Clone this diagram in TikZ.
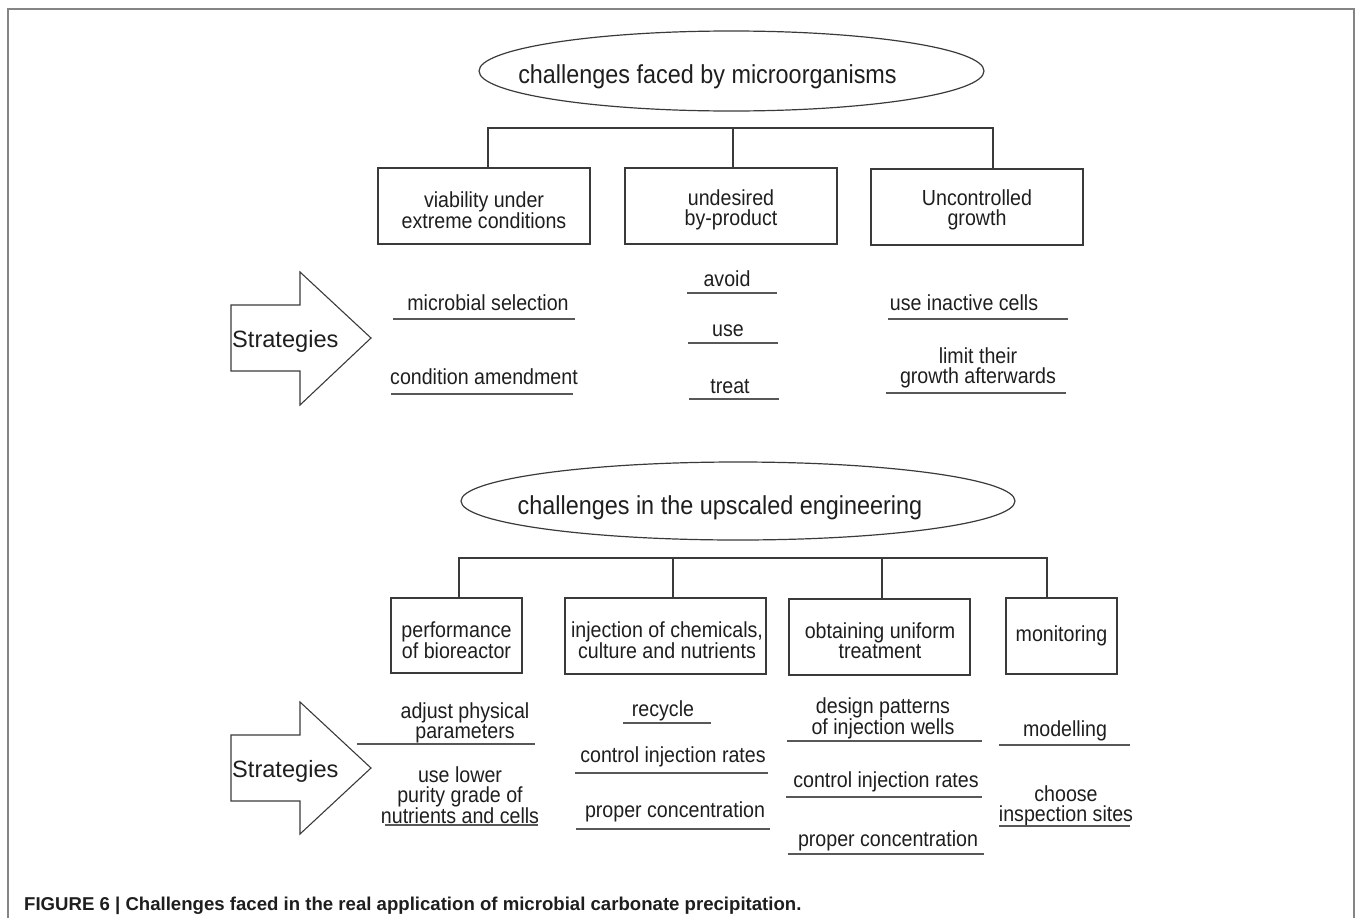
\documentclass[tikz,border=0pt]{standalone}
\usepackage{fontspec}
\setmainfont{Liberation Sans}
\newfontfamily\narrowfam{Liberation Sans}[FakeStretch=0.9]
\usetikzlibrary{shapes.geometric}
\definecolor{ink}{HTML}{1E1E1E}
\definecolor{edgec}{HTML}{3A3A3A}
\definecolor{framec}{HTML}{858585}
\newcommand\txtS{\narrowfam\fontsize{21.8pt}{20pt}\selectfont}
\newcommand\txtE{\narrowfam\fontsize{26pt}{28pt}\selectfont}
\newcommand\txtG{\fontsize{23.6pt}{26pt}\selectfont}
\newcommand\txtC{\bfseries\fontsize{18.6pt}{22pt}\selectfont}
\begin{document}
\begin{tikzpicture}[x=1pt,y=-1pt,
  box/.style={draw=edgec,line width=1.4pt,rectangle,inner sep=0pt},
  oval/.style={draw=edgec,line width=1.2pt,ellipse,inner sep=0pt},
  lbl/.style={inner sep=0pt,align=center,font=\txtS,text=ink},
  one/.style={lbl,text height=15pt,text depth=5pt},
  uline/.style={draw=edgec!85,line width=1.4pt},
  conn/.style={draw=edgec,line width=1.2pt},
  strat/.style={draw=edgec,line width=1.1pt,line join=miter},
  stxt/.style={inner sep=0pt,anchor=west,font=\txtG,text=ink},
]
\useasboundingbox (0,0) rectangle (1356,918);
% frame
\draw[framec,line width=1.5pt] (8,918) -- (8,9) -- (1354,9) -- (1354,918);

% ===== top part =====
\node[oval,minimum width=505pt,minimum height=80pt] (e1) at (731.5,71) {};
\node[lbl,font=\txtE] (t1) at (707.5,77) {challenges faced by microorganisms};

\node[box,minimum width=212pt,minimum height=76pt] (b1) at (484,206) {};
\node[box,minimum width=212pt,minimum height=76pt] (b2) at (731,206) {};
\node[box,minimum width=212pt,minimum height=76pt] (b3) at (977,207) {};
\node[lbl] (b1t) at (484,210.5) {viability under\\extreme conditions};
\node[lbl] (b2t) at (731,210) {undesired\\by-product};
\node[lbl] (b3t) at (977,209.5) {Uncontrolled\\growth};

\coordinate (h1L) at (488,128);
\coordinate (h1M) at (733,128);
\coordinate (h1R) at (993,128);
\draw[conn] (h1L |- b1.north) -- (h1L) -- (h1R) -- (h1R |- b3.north);
\draw[conn] (h1M) -- (h1M |- b2.north);

\draw[strat] (231,305) -- (300,305) -- (300,272) -- (371,338) -- (300,405) -- (300,371) -- (231,371) -- cycle;
\node[stxt] (s1) at (232,341.5) {Strategies};

\node[one] (a1) at (488,305.5) {microbial selection};
\draw[uline] (393,319) -- (575,319);
\node[one] (a2) at (484,379.5) {condition amendment};
\draw[uline] (391,394) -- (573,394);

\node[one] (m1) at (727,281) {avoid};
\draw[uline] (687,293) -- (777,293);
\node[one] (m2) at (728,331.5) {use};
\draw[uline] (688,343) -- (778,343);
\node[one] (m3) at (730,388.5) {treat};
\draw[uline] (689,399) -- (779,399);

\node[one] (r1) at (964,305.5) {use inactive cells};
\draw[uline] (888,319) -- (1068,319);
\node[lbl] (r2) at (978,368) {limit their\\growth afterwards};
\draw[uline] (886,393) -- (1066,393);

% ===== bottom part =====
\node[oval,minimum width=554pt,minimum height=78pt] (e2) at (738,501) {};
\node[lbl,font=\txtE] (t2) at (720,508) {challenges in the upscaled engineering};

\node[box,minimum width=131pt,minimum height=75pt] (bA) at (456.5,635.5) {};
\node[box,minimum width=201pt,minimum height=76pt] (bB) at (665.5,636) {};
\node[box,minimum width=181pt,minimum height=76pt] (bC) at (879.5,637) {};
\node[box,minimum width=111pt,minimum height=76pt] (bD) at (1061.5,636) {};
\node[lbl] (bAt) at (456.5,640.5) {performance\\of bioreactor};
\node[lbl] (bBt) at (667,640) {injection of chemicals,\\culture and nutrients};
\node[lbl] (bCt) at (880,640.5) {obtaining uniform\\treatment};
\node[one] (bDt) at (1061.5,636.5) {monitoring};

\coordinate (h2A) at (459,558);
\coordinate (h2B) at (673,558);
\coordinate (h2C) at (882,558);
\coordinate (h2D) at (1047,558);
\draw[conn] (h2A |- bA.north) -- (h2A) -- (h2D) -- (h2D |- bD.north);
\draw[conn] (h2B) -- (h2B |- bB.north);
\draw[conn] (h2C) -- (h2C |- bC.north);

\draw[strat] (231,735) -- (300,735) -- (300,702) -- (371,768) -- (300,834) -- (300,801) -- (231,801) -- cycle;
\node[stxt] (s2) at (232,771.5) {Strategies};

\node[lbl] (pA1) at (465,723) {adjust physical\\parameters};
\draw[uline] (357,744) -- (535,744);
\node[lbl] (pA2) at (460,795.5) {use lower\\purity grade of\\nutrients and cells};
\draw[uline] (385,825) -- (538,825);

\node[one] (pB1) at (663,711.5) {recycle};
\draw[uline] (623,723) -- (711,723);
\node[one] (pB2) at (673,757.5) {control injection rates};
\draw[uline] (575,773) -- (768,773);
\node[one] (pB3) at (675,812.5) {proper concentration};
\draw[uline] (576,829) -- (770,829);

\node[lbl] (pC1) at (883,718.5) {design patterns\\of injection wells};
\draw[uline] (787,741) -- (982,741);
\node[one] (pC2) at (886,782.5) {control injection rates};
\draw[uline] (786,797) -- (982,797);
\node[one] (pC3) at (888,841.5) {proper concentration};
\draw[uline] (788,854) -- (984,854);

\node[one] (pD1) at (1065,731.5) {modelling};
\draw[uline] (999,745) -- (1130,745);
\node[lbl] (pD2) at (1066,805.5) {choose\\inspection sites};
\draw[uline] (999,826) -- (1130,826);

% caption
\node[anchor=base west,inner sep=0pt,font=\txtC,text=ink] (cap) at (24,910) {FIGURE 6 | Challenges faced in the real application of microbial carbonate precipitation.};
\end{tikzpicture}
\end{document}
